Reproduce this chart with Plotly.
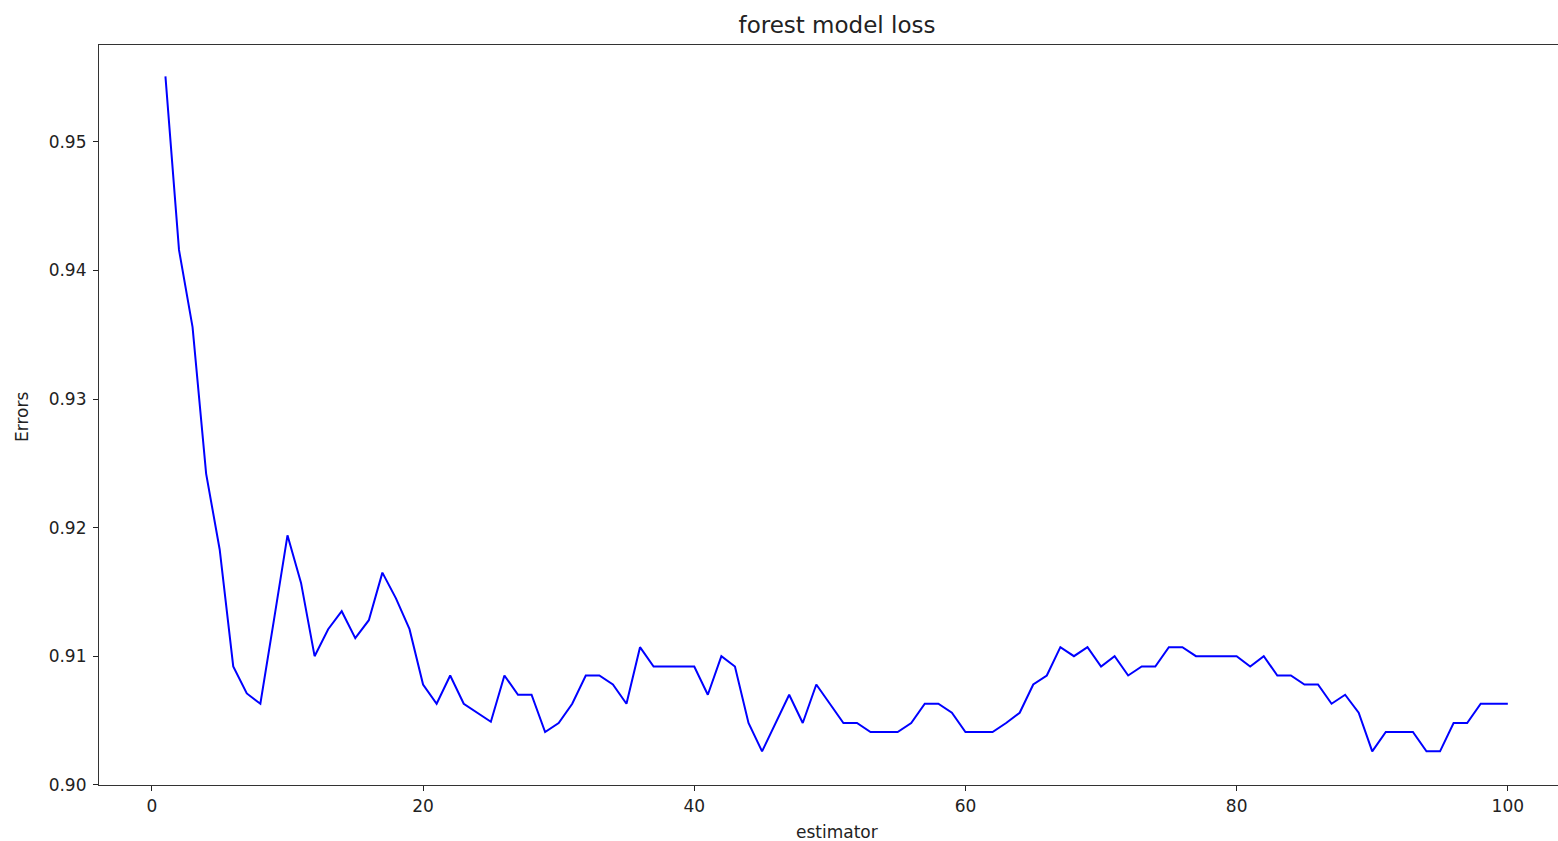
import plotly.graph_objects as go

estimators = list(range(1, 101))
errors = [
    0.9551, 0.9416, 0.9356, 0.9242, 0.9183, 0.9092, 0.9071, 0.9063, 0.9128, 0.9194,
    0.9157, 0.9100, 0.9121, 0.9135, 0.9114, 0.9128, 0.9165, 0.9145, 0.9121, 0.9078,
    0.9063, 0.9085, 0.9063, 0.9056, 0.9049, 0.9085, 0.9070, 0.9070, 0.9041, 0.9048,
    0.9063, 0.9085, 0.9085, 0.9078, 0.9063, 0.9107, 0.9092, 0.9092, 0.9092, 0.9092,
    0.9070, 0.9100, 0.9092, 0.9048, 0.9026, 0.9048, 0.9070, 0.9048, 0.9078, 0.9063,
    0.9048, 0.9048, 0.9041, 0.9041, 0.9041, 0.9048, 0.9063, 0.9063, 0.9056, 0.9041,
    0.9041, 0.9041, 0.9048, 0.9056, 0.9078, 0.9085, 0.9107, 0.9100, 0.9107, 0.9092,
    0.9100, 0.9085, 0.9092, 0.9092, 0.9107, 0.9107, 0.9100, 0.9100, 0.9100, 0.9100,
    0.9092, 0.9100, 0.9085, 0.9085, 0.9078, 0.9078, 0.9063, 0.9070, 0.9056, 0.9026,
    0.9041, 0.9041, 0.9041, 0.9026, 0.9026, 0.9048, 0.9048, 0.9063, 0.9063, 0.9063,
]
x_ticks = [0, 20, 40, 60, 80, 100]
y_ticks = [0.90, 0.91, 0.92, 0.93, 0.94, 0.95]

W, H = 1558, 841
ml, mr, mt, mb = 99, 0, 45, 56
pw, ph = W - ml - mr, H - mt - mb

fig = go.Figure(go.Scatter(x=estimators, y=errors, mode="lines",
                           line=dict(color="#0000ff", width=2)))

font = dict(family="DejaVu Sans", size=17, color="#222222")
label_font = dict(family="DejaVu Sans", size=17, color="#222222")
fig.update_layout(
    width=W, height=H,
    margin=dict(l=ml, r=mr, t=mt, b=mb),
    plot_bgcolor="white", paper_bgcolor="white",
    showlegend=False,
    font=font,
    title=dict(text="forest model loss", x=(837 - ml) / pw, xref="paper",
               xanchor="center", y=1 - 25 / H, yanchor="middle",
               font=dict(family="DejaVu Sans", size=23, color="#222222")),
)
fig.update_xaxes(
    range=[-3.9, 103.7], tickvals=x_ticks, ticks="outside", ticklen=5, tickwidth=1,
    tickcolor="#222222", showline=True, linecolor="#333333", linewidth=1.2, mirror=True,
    showgrid=False, zeroline=False, tickfont=font,
)
fig.update_yaxes(
    range=[0.89998, 0.95754], tickvals=y_ticks, tickformat=".2f", ticks="outside",
    ticklen=5, tickwidth=1, tickcolor="#222222", showline=True, linecolor="#333333",
    linewidth=1.2, mirror=False, showgrid=False, zeroline=False, tickfont=font,
    ticklabelstandoff=3,
)
fig.add_annotation(text="estimator", x=(837 - ml) / pw, xref="paper",
                   y=-(832 - (H - mb)) / ph, yref="paper",
                   xanchor="center", yanchor="middle", showarrow=False, font=label_font)
fig.add_annotation(text="Errors", x=(22 - ml) / pw, xref="paper",
                   y=(H - mb - 417) / ph, yref="paper", textangle=-90,
                   xanchor="center", yanchor="middle", showarrow=False, font=label_font)

fig.write_html("out.html", config={"displayModeBar": False},
               post_script="document.body.style.margin='0';")
